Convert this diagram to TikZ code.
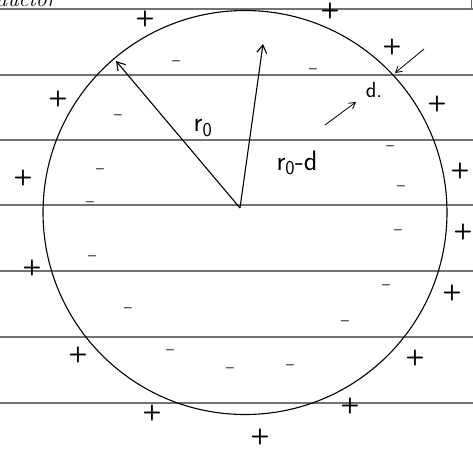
\documentclass[tikz,border=0pt]{standalone}
\usepackage{fontspec}
\usetikzlibrary{arrows.meta}
\begin{document}
\begin{tikzpicture}[x=1pt,y=-1pt,
  ruled/.style={draw=black!55,line width=1.4pt},
  pen/.style={draw=black,line width=1.1pt},
  vec/.style={pen,-{Straight Barb[length=8pt,width=10pt]}},
  small/.style={draw=black,line width=0.8pt,-{Straight Barb[length=6pt,width=7pt]}},
  poscharge/.style={font=\sffamily\bfseries\fontsize{22}{22}\selectfont,inner sep=0pt},
  negcharge/.style={font=\sffamily\bfseries\fontsize{15}{15}\selectfont,inner sep=0pt,text=black!80},
  lab/.style={font=\sffamily\fontsize{28}{28}\selectfont,inner sep=1pt}]
\useasboundingbox (0,0) rectangle (473,459);
\begin{scope}
\clip (0,0) rectangle (473,459);
% paper lines
\foreach \yy in {9,75,140,205,271,337,403} \draw[ruled] (0,\yy) -- (473,\yy);
\draw[black!60,line width=1pt] (471,0) -- (471,9);
% cut-off heading
\node[anchor=base west,inner sep=0pt,font=\fontsize{22}{22}\selectfont\itshape] (head) at (-4,6) {ductor};
\end{scope}
% sphere
\node[pen,circle,minimum size=404pt,inner sep=0pt] (circ) at (245,212.5) {};
% radii
\coordinate (O) at (240,208);
\coordinate (A) at (116,61);
\coordinate (B) at (263,44);
\draw[vec] (O) -- (A);
\draw[vec] (O) -- (B);
\node[lab] (r0) at (203,128) {r$_{\mathsf 0}$};
\node[lab] (r0d) at (297,163) {r$_{\mathsf 0}$-d};
% thickness d
\node[lab,font=\sffamily\fontsize{22}{22}\selectfont] (d) at (374,90) {d.};
\coordinate (p1) at (325,125);
\coordinate (p2) at (356,102);
\coordinate (q1) at (424,49);
\coordinate (q2) at (395,73);
\draw[small] (p1) -- (p2);
\draw[small] (q1) -- (q2);
% positive charges outside
\foreach \px/\py [count=\i] in {145/19,330/11,392/47,437/104,460/171,463/232,452/293,415/358,350/406,260/437,152/413,78/355,32/268,23/178,58/99}
  \node[poscharge] (plus\i) at (\px,\py) {+};
% negative charges inside
\foreach \mx/\my [count=\i] in {176/63,313/71,118/117,100/171,90/204,92/258,128/310,170/352,230/370,290/367,345/323,386/287,398/232,401/188,390/148}
  \node[negcharge] (minus\i) at (\mx,\my) {--};
\end{tikzpicture}
\end{document}
